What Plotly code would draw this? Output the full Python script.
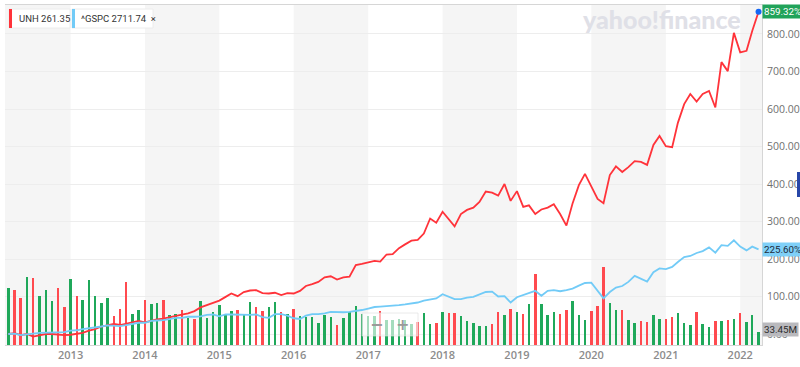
import pandas as pd
import plotly.graph_objects as go

# ---------------- data ----------------
dates = pd.date_range("2012-03-01", periods=122, freq="MS")

unh_pct = [0, 2, -3, 0, -7, -3, 0, 0, -1, -3,
           -2, 0, 3, 9, 13, 20, 24, 27, 24, 28, 32, 35,
           31, 36, 39, 41, 45, 48, 52, 55, 61, 71, 77, 81,
           89, 99, 108, 101, 112, 116, 117, 109, 108, 110, 104, 109,
           108, 115, 128, 133, 139, 151, 154, 145, 151, 153, 184, 187,
           190, 195, 193, 212, 213, 229, 239, 249, 251, 268, 308, 297,
           326, 307, 287, 320, 331, 337, 352, 380, 377, 369, 400, 355,
           381, 339, 343, 320, 332, 337, 346, 320, 289, 348, 397, 427,
           392, 360, 349, 424, 447, 432, 445, 461, 459, 451, 504, 528,
           501, 498, 563, 613, 640, 620, 640, 648, 604, 725, 701, 803,
           751, 755, 808, 859.32]

gspc_pct = [0, 1, -3, 0, 1, 3, 3, 3, 4, 5,
            9, 10, 13, 15, 17, 20, 23, 23, 21, 24, 27, 30,
            30, 35, 36, 37, 40, 43, 43, 46, 46, 47, 51, 52,
            47, 52, 52, 51, 51, 51, 52, 45, 43, 53, 53, 49,
            42, 40, 49, 53, 53, 55, 59, 58, 58, 59, 61, 64,
            68, 72, 73, 74, 76, 77, 79, 81, 84, 89, 93, 95,
            106, 99, 93, 93, 97, 99, 106, 112, 113, 100, 101, 84,
            98, 104, 108, 115, 102, 115, 117, 114, 117, 121, 129, 136,
            137, 116, 95, 112, 124, 128, 139, 155, 148, 140, 165, 175,
            173, 179, 192, 205, 208, 216, 221, 231, 217, 237, 235, 250,
            233, 223, 233, 225.60]

volume_m = [144, 137, 117, 171, 169, 123, 137, 110, 142, 95,
            165, 123, 112, 162, 122, 105, 119, 72, 90, 159, 79, 89,
            114, 102, 106, 114, 75, 77, 87, 68, 65, 110, 69, 82,
            100, 75, 85, 87, 75, 107, 96, 85, 96, 108, 83, 77,
            90, 73, 70, 71, 54, 75, 71, 50, 68, 83, 98, 79,
            73, 73, 85, 62, 63, 65, 62, 52, 58, 81, 52, 56,
            83, 81, 80, 73, 60, 54, 48, 48, 53, 84, 75, 90,
            83, 77, 102, 179, 104, 75, 84, 77, 89, 110, 75, 62,
            85, 97, 196, 106, 89, 87, 62, 56, 60, 58, 75, 65,
            64, 70, 80, 56, 50, 83, 52, 46, 60, 60, 62, 65,
            81, 58, 75, 33.45]

volume_dir = list("GRRGRGGGRRGRGGGGGRRRGGRGGRGGRGRGGGGGGRGGRRGGRGRGGGGGGRGGGGGGRGGGGGRGGRGRRGGGGGRRGRGRGRGGGRRGGGRRRGGRGGRRGGRRGGGRGGRGRGRGGG")

unh_label = "UNH 261.35"
gspc_label = "^GSPC 2711.74"
year_ticks = list(range(2013, 2023))

# ---------------- styling ----------------
RED = "#ff333a"
BLUE = "#72cbf7"
VGREEN = "#1fa85a"
VRED = "#ff4a4f"

W, H = 800, 367
L, R, T, B = 5, 38, 5, 22
pw, ph = W - L - R, H - T - B


def px(x):
    return (x - L) / pw


def py(y):
    return (H - B - y) / ph


fig = go.Figure()

fig.add_trace(go.Bar(
    x=dates, y=volume_m,
    marker=dict(color=[VGREEN if d == "G" else VRED for d in volume_dir], line_width=0),
    width=1.05e9, yaxis="y", hoverinfo="skip", showlegend=False))

fig.add_trace(go.Scatter(
    x=dates, y=unh_pct, mode="lines", line=dict(color=RED, width=1.8),
    yaxis="y2", showlegend=False))
fig.add_trace(go.Scatter(
    x=dates, y=gspc_pct, mode="lines", line=dict(color=BLUE, width=1.8),
    yaxis="y2", showlegend=False))
fig.add_trace(go.Scatter(
    x=[dates[-1]], y=[unh_pct[-1]], mode="markers",
    marker=dict(color="#1467f5", size=6), yaxis="y2", showlegend=False))

# alternating year bands
shapes = []
band_edges = [dates[0] - pd.Timedelta(days=20)] + [pd.Timestamp(f"{y}-01-01") for y in year_ticks] + [dates[-1] + pd.Timedelta(days=20)]
for k in range(0, len(band_edges) - 1, 2):
    shapes.append(dict(type="rect", xref="x", yref="paper", x0=band_edges[k], x1=band_edges[k + 1],
                       y0=0, y1=1, fillcolor="#f5f5f5", line_width=0, layer="below"))

# zoom control overlay
shapes.append(dict(type="rect", xref="paper", yref="paper", x0=px(362), x1=px(418), y0=py(336), y1=py(313),
                   fillcolor="rgba(255,255,255,0.6)", line=dict(color="rgba(220,220,220,0.6)", width=1), layer="above"))
# legend chips
shapes.append(dict(type="rect", xref="paper", yref="paper", x0=px(9), x1=px(70), y0=py(28), y1=py(9),
                   fillcolor="white", line=dict(color="#ececec", width=1), layer="above"))
shapes.append(dict(type="rect", xref="paper", yref="paper", x0=px(9), x1=px(12), y0=py(28), y1=py(9),
                   fillcolor=RED, line_width=0, layer="above"))
shapes.append(dict(type="rect", xref="paper", yref="paper", x0=px(72), x1=px(153), y0=py(28), y1=py(9),
                   fillcolor="white", line=dict(color="#ececec", width=1), layer="above"))
shapes.append(dict(type="rect", xref="paper", yref="paper", x0=px(72), x1=px(75), y0=py(28), y1=py(9),
                   fillcolor=BLUE, line_width=0, layer="above"))
# small right-edge marker
shapes.append(dict(type="rect", xref="paper", yref="paper", x0=px(797), x1=px(801), y0=py(197), y1=py(172),
                   fillcolor="#2746a8", line_width=0, layer="above"))

annotations = [
    dict(xref="paper", yref="paper", x=px(662), y=py(19), text="yahoo!finance", showarrow=False,
         font=dict(family="Lato", size=25, color="#dfe0e7", weight=900), xanchor="center", yanchor="middle"),
    dict(xref="paper", yref="paper", x=px(17), y=py(18.5), text=unh_label, showarrow=False,
         font=dict(family="Roboto", size=9.5, color="#333"), xanchor="left", yanchor="middle"),
    dict(xref="paper", yref="paper", x=px(79), y=py(18.5), text=gspc_label + "  \u00d7", showarrow=False,
         font=dict(family="Roboto", size=9.5, color="#333"), xanchor="left", yanchor="middle"),
    dict(xref="paper", yref="paper", x=px(376), y=py(324.5), text="\u2212", showarrow=False,
         font=dict(family="DejaVu Sans", size=16, color="#9a9a9a", weight="bold"), xanchor="center", yanchor="middle"),
    dict(xref="paper", yref="paper", x=px(403), y=py(324.5), text="+", showarrow=False,
         font=dict(family="DejaVu Sans", size=16, color="#9a9a9a", weight="bold"), xanchor="center", yanchor="middle"),
    dict(xref="paper", yref="y2", x=1, y=unh_pct[-1], text=f"{unh_pct[-1]:.2f}%", showarrow=False,
         xanchor="left", yanchor="middle", bgcolor="#21a35a", font=dict(family="Roboto", size=9.8, color="white"),
         borderpad=1),
    dict(xref="paper", yref="y2", x=1, y=gspc_pct[-1], text=f"{gspc_pct[-1]:.2f}%", showarrow=False,
         xanchor="left", yanchor="middle", bgcolor="#7fd0f8", font=dict(family="Roboto", size=9.8, color="#1d2a3a"),
         borderpad=1),
    dict(xref="paper", yref="y", x=1, y=volume_m[-1], text=f"{volume_m[-1]:.2f}M", showarrow=False,
         xanchor="left", yanchor="middle", bgcolor="#b9b9bd", font=dict(family="Roboto", size=9.8, color="#2b2b2b"),
         borderpad=1, yshift=2),
]

fig.update_layout(
    width=W, height=H, margin=dict(l=L, r=R, t=T, b=B, autoexpand=False),
    paper_bgcolor="white", plot_bgcolor="white",
    showlegend=False, bargap=0,
    xaxis=dict(type="date", range=[dates[0] - pd.Timedelta(days=16), dates[-1] + pd.Timedelta(days=17)],
               tickvals=[pd.Timestamp(f"{y}-01-01") for y in year_ticks], ticktext=[str(y) for y in year_ticks],
               showgrid=False, showline=True, linecolor="#d6d6d6", mirror=True,
               ticks="", ticklabelstandoff=0, automargin=False,
               tickfont=dict(family="Open Sans", size=11, color="#8c8c8c", weight=600), zeroline=False),
    yaxis=dict(range=[0, 853], visible=False, showgrid=False, zeroline=False, automargin=False),
    yaxis2=dict(overlaying="y", side="right", range=[-29.3, 877.3],
                tickvals=list(range(0, 900, 100)), tickformat=".2f", ticksuffix="%",
                showgrid=True, gridcolor="#ededed", zeroline=False, automargin=False,
                showline=True, linecolor="#d6d6d6", ticks="", ticklabelstandoff=2,
                tickfont=dict(family="Open Sans", size=10.5, color="#707070")),
    shapes=shapes, annotations=annotations,
)

fig.write_html("out.html", config={"displayModeBar": False},
               post_script="document.body.style.margin='0';document.body.style.overflow='hidden';")
